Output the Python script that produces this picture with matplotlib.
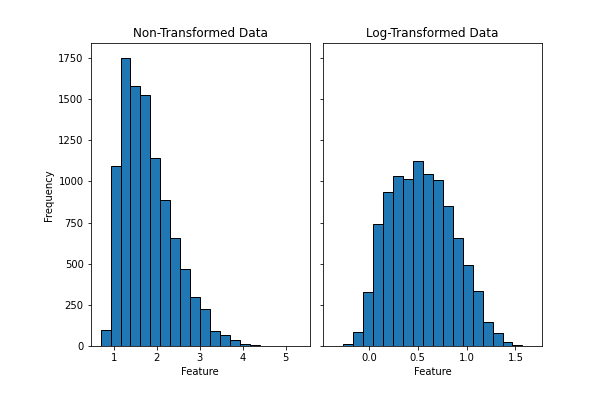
import numpy as np
import matplotlib
matplotlib.use('Agg')
import matplotlib.pyplot as plt

# bin edges (20 bins each)
raw_lo, raw_hi = 0.694, 5.334
raw_edges = np.linspace(raw_lo, raw_hi, 21)
log_edges = np.linspace(np.log(raw_lo), np.log(raw_hi), 21)

# counts per bin
raw_counts = [95, 1096, 1750, 1577, 1523, 1143, 889, 656, 471, 300,
              227, 91, 67, 35, 14, 8, 2, 1, 0, 1]
log_counts = [2, 14, 87, 331, 743, 936, 1033, 1017, 1125, 1045,
              1009, 851, 656, 493, 335, 144, 77, 24, 6, 2]

fig, (ax1, ax2) = plt.subplots(1, 2, sharey=True, figsize=(600 / 72, 402 / 72), dpi=72)
fig.subplots_adjust(left=0.151, right=0.904, top=0.892, bottom=0.139, wspace=0.06)

raw_mid = (raw_edges[:-1] + raw_edges[1:]) / 2
log_mid = (log_edges[:-1] + log_edges[1:]) / 2

ax1.hist(raw_mid, bins=raw_edges, weights=raw_counts, edgecolor='black')
ax1.set_title('Non-Transformed Data')
ax1.set_xlabel('Feature')
ax1.set_ylabel('Frequency')

ax2.hist(log_mid, bins=log_edges, weights=log_counts, edgecolor='black')
ax2.set_title('Log-Transformed Data')
ax2.set_xlabel('Feature')

fig.savefig('out.png')
